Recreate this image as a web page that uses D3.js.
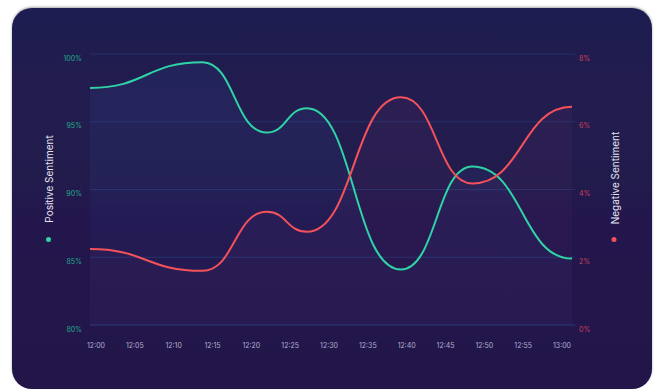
<!DOCTYPE html>
<html lang="en">
<head>
    <meta charset="UTF-8">
    <title>Sentiment</title>
    <script src="https://d3js.org/d3.v7.min.js"></script>
    <style>
        body { margin: 0; background: #fff; }
        svg text { font-family: Inter, "Noto Sans", sans-serif; }
    </style>
</head>
<body>
    <script>
    // minutes after 12:00 where the readings were taken
    var minutes = [0, 14, 22, 27, 38.7, 47.6, 60];
    var positive = [97.5, 99.4, 94.2, 96.0, 84.1, 91.7, 84.9];
    var negative = [2.24, 1.6, 3.34, 2.75, 6.72, 4.18, 6.44];
    var timeLabels = ["12:00", "12:05", "12:10", "12:15", "12:20", "12:25", "12:30",
        "12:35", "12:40", "12:45", "12:50", "12:55", "13:00"];
    var posTicks = [80, 85, 90, 95, 100];
    var negTicks = [0, 2, 4, 6, 8];

    var w = 658, h = 390;
    var green = "#2fd3a6", red = "#f4515b";
    // plot box (note: "top" is taken by window.top)
    var plotL = 90, plotR = 572, plotT = 54, plotB = 325;

    var svg = d3.select("body").append("svg")
        .attr("width", w)
        .attr("height", h);

    var defs = svg.append("defs");
    var bg = defs.append("linearGradient").attr("id", "bg")
        .attr("x1", 0).attr("y1", 0).attr("x2", 0).attr("y2", 1);
    bg.append("stop").attr("offset", "0%").attr("stop-color", "#1f1f51");
    bg.append("stop").attr("offset", "100%").attr("stop-color", "#23144a");

    var gFill = defs.append("linearGradient").attr("id", "gfill")
        .attr("x1", 0).attr("y1", 0).attr("x2", 0).attr("y2", 1);
    gFill.append("stop").attr("offset", "0%").attr("stop-color", "#3a6fd0").attr("stop-opacity", 0.1);
    gFill.append("stop").attr("offset", "100%").attr("stop-color", "#3a6fd0").attr("stop-opacity", 0.03);

    var rFill = defs.append("linearGradient").attr("id", "rfill")
        .attr("x1", 0).attr("y1", 0).attr("x2", 0).attr("y2", 1);
    rFill.append("stop").attr("offset", "0%").attr("stop-color", "#c0508a").attr("stop-opacity", 0.06);
    rFill.append("stop").attr("offset", "100%").attr("stop-color", "#c0508a").attr("stop-opacity", 0.03);

    var shadow = defs.append("filter").attr("id", "shadow")
        .attr("x", "-5%").attr("y", "-5%").attr("width", "110%").attr("height", "110%");
    shadow.append("feDropShadow").attr("dx", 0).attr("dy", -1).attr("stdDeviation", 1.2)
        .attr("flood-color", "#000").attr("flood-opacity", 0.35);

    // card
    svg.append("rect")
        .attr("x", 12).attr("y", 8)
        .attr("width", 640).attr("height", 381)
        .attr("rx", 20)
        .attr("fill", "url(#bg)")
        .attr("filter", "url(#shadow)");

    var x = d3.scaleLinear().domain([0, 60]).range([plotL, plotR]);
    var xLab = d3.scalePoint().domain(timeLabels).range([96, 562]);
    var yPos = d3.scaleLinear().domain([80, 100]).range([plotB, plotT]);
    var yNeg = d3.scaleLinear().domain([0, 8]).range([plotB, plotT]);

    // grid
    svg.append("g").selectAll("line")
        .data(posTicks)
        .enter().append("line")
        .attr("x1", plotL).attr("x2", 575)
        .attr("y1", function(d) { return yPos(d); })
        .attr("y2", function(d) { return yPos(d); })
        .attr("stroke", function(d) { return d == 80 ? "#2b3a78" : "#25306a"; })
        .attr("stroke-width", 1);

    var pts = minutes.map(function(m, i) { return { m: m, p: positive[i], n: negative[i] }; });

    // areas
    svg.append("path").datum(pts)
        .attr("fill", "url(#gfill)")
        .attr("d", d3.area().curve(d3.curveBumpX)
            .x(function(d) { return x(d.m); })
            .y0(plotB)
            .y1(function(d) { return yPos(d.p); }));
    svg.append("path").datum(pts)
        .attr("fill", "url(#rfill)")
        .attr("d", d3.area().curve(d3.curveBumpX)
            .x(function(d) { return x(d.m); })
            .y0(plotB)
            .y1(function(d) { return yNeg(d.n); }));

    // lines
    svg.append("path").datum(pts)
        .attr("fill", "none")
        .attr("stroke", green)
        .attr("stroke-width", 2)
        .attr("d", d3.line().curve(d3.curveBumpX)
            .x(function(d) { return x(d.m); })
            .y(function(d) { return yPos(d.p); }));
    svg.append("path").datum(pts)
        .attr("fill", "none")
        .attr("stroke", red)
        .attr("stroke-width", 2)
        .attr("d", d3.line().curve(d3.curveBumpX)
            .x(function(d) { return x(d.m); })
            .y(function(d) { return yNeg(d.n); }));

    // axis labels
    svg.append("g").selectAll("text")
        .data(posTicks)
        .enter().append("text")
        .attr("x", 82)
        .attr("y", function(d) { return yPos(d) + 6.5; })
        .attr("text-anchor", "end")
        .attr("font-size", 7)
        .attr("fill", "#22a98a")
        .text(function(d) { return d + "%"; });

    svg.append("g").selectAll("text")
        .data(negTicks)
        .enter().append("text")
        .attr("x", 579)
        .attr("y", function(d) { return yNeg(d) + 6.5; })
        .attr("font-size", 7)
        .attr("fill", "#c8415a")
        .text(function(d) { return d + "%"; });

    svg.append("g").selectAll("text")
        .data(timeLabels)
        .enter().append("text")
        .attr("x", function(d) { return xLab(d); })
        .attr("y", 348)
        .attr("text-anchor", "middle")
        .attr("font-size", 7)
        .attr("fill", "#b0aecb")
        .text(function(d) { return d; });

    // legends
    svg.append("text")
        .attr("transform", "translate(53,179) rotate(-90)")
        .attr("text-anchor", "middle")
        .attr("font-size", 10)
        .attr("fill", "#e6e6f2")
        .text("Positive Sentiment");
    svg.append("circle").attr("cx", 48.5).attr("cy", 239.5).attr("r", 2.5).attr("fill", green);

    svg.append("text")
        .attr("transform", "translate(618.5,178) rotate(-90)")
        .attr("text-anchor", "middle")
        .attr("font-size", 10)
        .attr("fill", "#e6e6f2")
        .text("Negative Sentiment");
    svg.append("circle").attr("cx", 614).attr("cy", 239.5).attr("r", 2.5).attr("fill", red);
    </script>
</body>
</html>
